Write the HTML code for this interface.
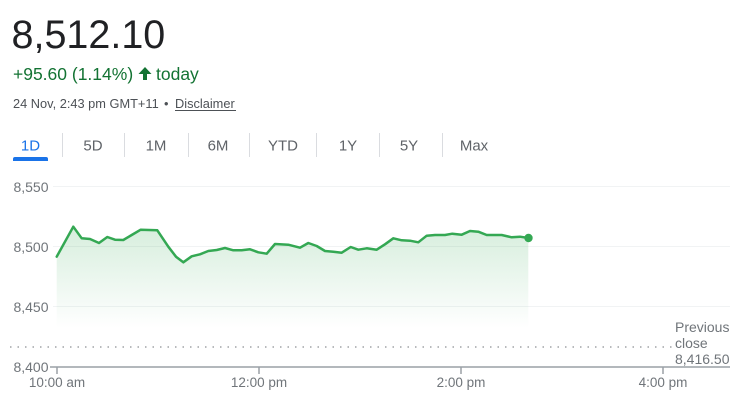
<!DOCTYPE html>
<html>
<head>
<meta charset="utf-8">
<style>
  html,body{margin:0;padding:0;background:#fff;}
  body{width:745px;height:401px;overflow:hidden;}
  svg{display:block;font-family:"Liberation Sans",Arial,sans-serif;}
</style>
</head>
<body>
<svg width="745" height="401" viewBox="0 0 745 401" xmlns="http://www.w3.org/2000/svg">
  <defs>
    <linearGradient id="fillg" x1="0" y1="226" x2="0" y2="328" gradientUnits="userSpaceOnUse">
      <stop offset="0" stop-color="#34a853" stop-opacity="0.2"/>
      <stop offset="1" stop-color="#34a853" stop-opacity="0"/>
    </linearGradient>
  </defs>

  <!-- Header -->
  <text x="11.5" y="48" font-size="39.5" fill="#202124">8,512.10</text>
  <text x="13" y="80" font-size="17.5" fill="#137333">+95.60 (1.14%)</text>
  <path d="M145,67 L151.5,74 L147,74 L147,80 L143,80 L143,74 L138.5,74 Z" fill="#137333"/>
  <text x="156" y="80" font-size="17.5" fill="#137333">today</text>
  <text x="13" y="108" font-size="12.8" fill="#4d5156">24 Nov, 2:43 pm GMT+11</text>
  <text x="164" y="108" font-size="12.8" fill="#4d5156">•</text>
  <text x="175" y="108" font-size="12.8" fill="#4d5156">Disclaimer</text>
  <line x1="175" y1="110.5" x2="236" y2="110.5" stroke="#4d5156" stroke-width="1"/>

  <!-- Tabs -->
  <g font-size="15" text-anchor="middle" fill="#5f6368">
    <text x="30.5" y="150.5" fill="#1a73e8">1D</text>
    <text x="93" y="150.5">5D</text>
    <text x="156" y="150.5">1M</text>
    <text x="218" y="150.5">6M</text>
    <text x="283" y="150.5">YTD</text>
    <text x="348" y="150.5">1Y</text>
    <text x="409" y="150.5">5Y</text>
    <text x="474" y="150.5">Max</text>
  </g>
  <rect x="13" y="157" width="35" height="4" rx="2" fill="#1a73e8"/>
  <rect x="13" y="159" width="35" height="2" fill="#1a73e8"/>
  <g stroke="#dadce0" stroke-width="1">
    <line x1="62.5" y1="133" x2="62.5" y2="157"/>
    <line x1="124.5" y1="133" x2="124.5" y2="157"/>
    <line x1="188.5" y1="133" x2="188.5" y2="157"/>
    <line x1="249.5" y1="133" x2="249.5" y2="157"/>
    <line x1="316.5" y1="133" x2="316.5" y2="157"/>
    <line x1="379.5" y1="133" x2="379.5" y2="157"/>
    <line x1="442.5" y1="133" x2="442.5" y2="157"/>
  </g>

  <!-- Gridlines -->
  <g stroke="#f1f3f4" stroke-width="1">
    <line x1="53" y1="186.5" x2="730" y2="186.5"/>
    <line x1="53" y1="246.5" x2="730" y2="246.5"/>
    <line x1="53" y1="306.5" x2="730" y2="306.5"/>
  </g>

  <!-- Y labels -->
  <g font-size="14" fill="#70757a" text-anchor="end">
    <text x="48.5" y="192">8,550</text>
    <text x="48.5" y="252">8,500</text>
    <text x="48.5" y="312">8,450</text>
    <text x="48.5" y="372">8,400</text>
  </g>

  <!-- Fill area -->
  <polygon fill="url(#fillg)" points="56.7,256.7 73.3,226.7 81.7,238.3 90,239 99,243 107.3,237 115,239.7 123.3,240 131.7,235 140.7,229.7 157.3,230.3 168.3,246.7 176,256.7 183.3,262.3 191.7,256.3 200,254.3 208.3,251 216.7,250 225,248 233.3,250.3 241.7,250.3 250,249.3 258.3,252.3 266.7,253.7 275,244 288.3,244.7 300,247.7 308.3,243 316.7,246 325,251 333.3,251.7 341.7,252.7 350.7,247 358.3,249.7 366.7,248.3 376.7,249.7 385,244.3 393.3,238.3 401.7,240.3 410,240.7 418.3,242.3 426.7,235.7 435,235 445,235 452.3,233.7 461.7,234.7 470,231 478.3,231.7 486.7,235 501.7,235 511.7,237.3 520,236.7 528.3,238 528.3,328 56.7,328"/>

  <!-- Previous close dotted line -->
  <line x1="10" y1="347" x2="672" y2="347" stroke="#70757a" stroke-width="1" stroke-dasharray="1.5,6"/>

  <!-- Axis -->
  <line x1="50" y1="367" x2="730" y2="367" stroke="#9aa0a6" stroke-width="1.5"/>
  <g stroke="#9aa0a6" stroke-width="1.5">
    <line x1="57" y1="367" x2="57" y2="374"/>
    <line x1="259" y1="367" x2="259" y2="374"/>
    <line x1="461" y1="367" x2="461" y2="374"/>
    <line x1="663" y1="367" x2="663" y2="374"/>
  </g>
  <g font-size="13.5" fill="#70757a" text-anchor="middle">
    <text x="57" y="387">10:00 am</text>
    <text x="259" y="387">12:00 pm</text>
    <text x="461" y="387">2:00 pm</text>
    <text x="663" y="387">4:00 pm</text>
  </g>

  <!-- Previous close label -->
  <g font-size="14" fill="#70757a">
    <text x="675" y="332">Previous</text>
    <text x="675" y="348">close</text>
    <text x="675" y="364">8,416.50</text>
  </g>

  <!-- Line -->
  <polyline fill="none" stroke="#34a853" stroke-width="2.5" stroke-linejoin="round" stroke-linecap="round" points="56.7,256.7 73.3,226.7 81.7,238.3 90,239 99,243 107.3,237 115,239.7 123.3,240 131.7,235 140.7,229.7 157.3,230.3 168.3,246.7 176,256.7 183.3,262.3 191.7,256.3 200,254.3 208.3,251 216.7,250 225,248 233.3,250.3 241.7,250.3 250,249.3 258.3,252.3 266.7,253.7 275,244 288.3,244.7 300,247.7 308.3,243 316.7,246 325,251 333.3,251.7 341.7,252.7 350.7,247 358.3,249.7 366.7,248.3 376.7,249.7 385,244.3 393.3,238.3 401.7,240.3 410,240.7 418.3,242.3 426.7,235.7 435,235 445,235 452.3,233.7 461.7,234.7 470,231 478.3,231.7 486.7,235 501.7,235 511.7,237.3 520,236.7 528.3,238"/>
  <circle cx="528.5" cy="238" r="4.2" fill="#34a853"/>
</svg>
</body>
</html>
